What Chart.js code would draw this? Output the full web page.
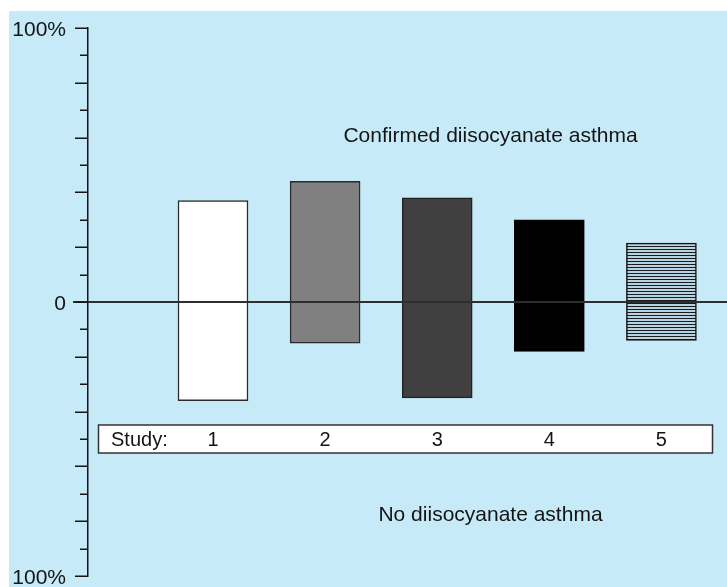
<!DOCTYPE html>
<html>
<head>
<meta charset="utf-8">
<script src="https://cdn.jsdelivr.net/npm/chart.js@4/dist/chart.umd.min.js"></script>
<style>
  html, body { margin: 0; padding: 0; background: #ffffff; }
  canvas { display: block; }
</style>
</head>
<body>
<canvas id="chart" width="727" height="587"></canvas>
<script>
// Study numbers shown in the band under the bars
const studies = ['1', '2', '3', '4', '5'];
// Share of workers with confirmed diisocyanate asthma (%), drawn above zero
const confirmedPct = [37, 44, 38, 30, 21.5];
// Share of workers without diisocyanate asthma (%), drawn below zero
const noAsthmaPct = [36, 15, 35, 18, 14];
// Y axis tick values and their labels
const yTicks = [-100, -90, -80, -70, -60, -50, -40, -30, -20, -10, 0, 10, 20, 30, 40, 50, 60, 70, 80, 90, 100];
const yTickLabels = { '100': '100%', '0': '0', '-100': '100%' };

const FONT = '"Liberation Sans", Arial, Helvetica, sans-serif';
const INK = '#141414';

// horizontal hatch used for study 5
function hatchPattern() {
  const pc = document.createElement('canvas');
  pc.width = 4; pc.height = 3;
  const p = pc.getContext('2d');
  p.fillStyle = '#b6d3e1';
  p.fillRect(0, 0, 4, 3);
  p.fillStyle = '#1c1c1c';
  p.fillRect(0, 0, 4, 1);
  return p.createPattern(pc, 'repeat');
}

const ctx = document.getElementById('chart').getContext('2d');
const fills = ['#ffffff', '#808080', '#404040', '#000000', hatchPattern()];
const strokes = ['#2b2b2b', '#2b2b2b', '#222222', '#000000', '#111111'];

const bars = studies.map((s, i) => ({ x: i + 1, y: [-noAsthmaPct[i], confirmedPct[i]] }));

const decor = {
  id: 'decor',
  beforeDraw(chart) {
    const c = chart.ctx;
    c.save();
    c.fillStyle = '#ffffff';
    c.fillRect(0, 0, chart.width, chart.height);
    c.fillStyle = '#c7eaf9';
    c.fillRect(9, 11, chart.width - 9, chart.height - 11);
    c.restore();
  },
  afterDatasetsDraw(chart) {
    const c = chart.ctx;
    const xs = chart.scales.x;
    const ys = chart.scales.y;
    const area = chart.chartArea;
    const axisX = area.left;
    c.save();

    // zero line across the plot
    const y0 = Math.round(ys.getPixelForValue(0));
    c.strokeStyle = '#2e2e2e';
    c.lineWidth = 2;
    c.beginPath();
    c.moveTo(73, y0);
    c.lineTo(chart.width, y0);
    c.stroke();

    // tick marks: long every 20%, short in between
    c.strokeStyle = INK;
    c.lineWidth = 1.5;
    yTicks.forEach(v => {
      const py = Math.round(ys.getPixelForValue(v)) + 0.25;
      const len = (v % 20 === 0) ? 13 : 8;
      c.beginPath();
      c.moveTo(axisX - len, py);
      c.lineTo(axisX, py);
      c.stroke();
    });

    // tick labels
    c.fillStyle = INK;
    c.font = '21px ' + FONT;
    c.textAlign = 'right';
    c.textBaseline = 'middle';
    yTicks.forEach(v => {
      const lab = yTickLabels[String(v)];
      if (lab) c.fillText(lab, axisX - 22, ys.getPixelForValue(v) + 2);
    });

    // study band
    const bandMid = ys.getPixelForValue(-50);
    const bx = 98.5, bw = 614, bh = 28;
    c.fillStyle = '#ffffff';
    c.fillRect(bx, bandMid - bh / 2, bw, bh);
    c.strokeStyle = '#333333';
    c.lineWidth = 1.5;
    c.strokeRect(bx, bandMid - bh / 2, bw, bh);

    c.fillStyle = INK;
    c.font = '20px ' + FONT;
    c.textBaseline = 'alphabetic';
    c.textAlign = 'left';
    c.fillText('Study:', 111, bandMid + 7);
    c.textAlign = 'center';
    studies.forEach((s, i) => {
      c.fillText(s, xs.getPixelForValue(i + 1), bandMid + 7);
    });

    // region captions
    c.font = '21px ' + FONT;
    c.fillText('Confirmed diisocyanate asthma', 490.5, 142);
    c.fillText('No diisocyanate asthma', 490.5, 521);

    c.restore();
  }
};

new Chart(ctx, {
  type: 'bar',
  data: {
    datasets: [{
      data: bars,
      backgroundColor: fills,
      borderColor: strokes,
      borderWidth: 1.5,
      borderSkipped: false,
      barThickness: 70
    }]
  },
  options: {
    responsive: false,
    devicePixelRatio: 1,
    animation: false,
    layout: { padding: { top: 28, bottom: 11, left: 0, right: 0 } },
    plugins: { legend: { display: false }, tooltip: { enabled: false } },
    scales: {
      x: { type: 'linear', min: -0.115, max: 5.585, offset: false, display: false },
      y: {
        min: -100, max: 100,
        ticks: { display: false, stepSize: 10 },
        grid: { drawOnChartArea: false, drawTicks: false },
        border: { display: true, color: INK, width: 1.5 },
        afterFit(s) { s.width = 88; s.paddingTop = 0; s.paddingBottom = 0; }
      }
    }
  },
  plugins: [decor]
});
</script>
</body>
</html>
